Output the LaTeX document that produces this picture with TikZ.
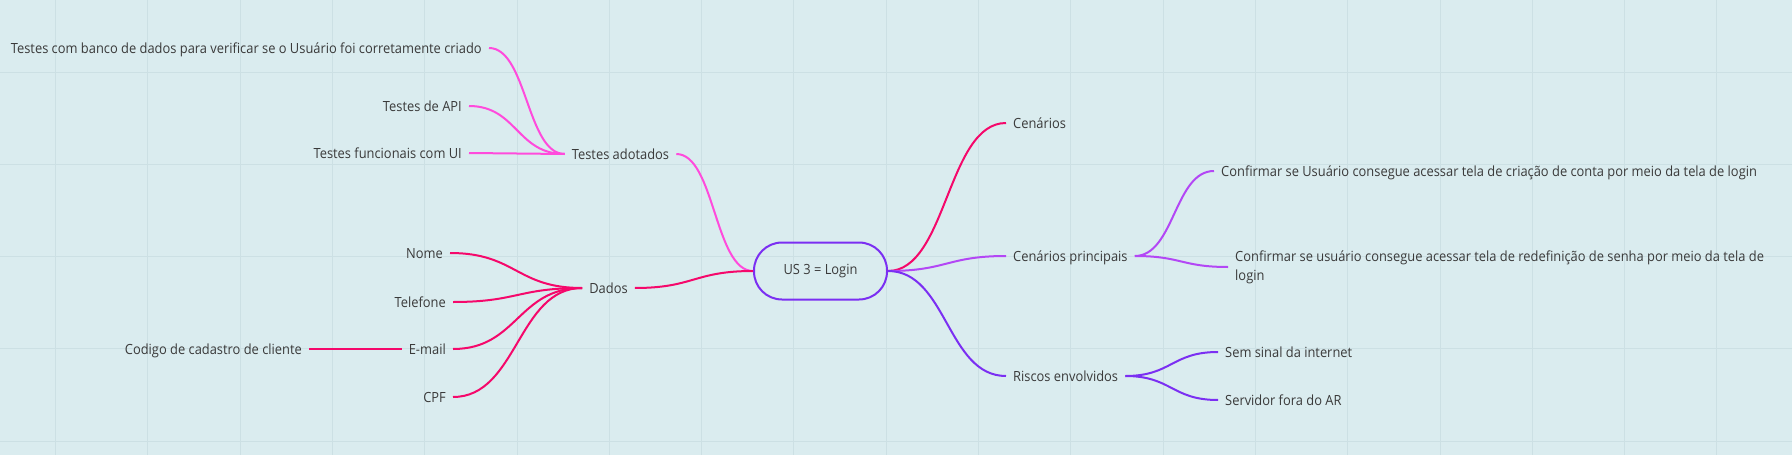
\documentclass[tikz,border=0pt]{standalone}
\usepackage{fontspec}
\setmainfont{Open Sans}[FakeStretch=0.92]
\usetikzlibrary{calc}
\definecolor{bg}{HTML}{DAECEF}
\definecolor{gridc}{HTML}{CCE0E4}
\definecolor{txt}{HTML}{3A3A3A}
\definecolor{cviolet}{HTML}{7B2FF2}
\definecolor{cpurple}{HTML}{B347F5}
\definecolor{ccrimson}{HTML}{F5086B}
\definecolor{cpink}{HTML}{FF4BDC}
\begin{document}
\begin{tikzpicture}[x=1pt,y=-1pt,
  base/.style={inner xsep=7pt, inner ysep=0pt, text=txt, font=\fontsize{14}{19}\selectfont},
  lbl/.style={base, text height=12pt, text depth=2pt},
  link/.style={line width=2pt, to path={let \p1=(\tikztostart), \p2=(\tikztotarget) in .. controls ({0.5*\x1+0.5*\x2},\y1) and ({0.5*\x1+0.5*\x2},\y2) .. (\tikztotarget)}},
  gridline/.style={gridc, line width=1pt}
]
\useasboundingbox (0,0) rectangle (1792,455);
\fill[bg] (0,0) rectangle (1792,455);
\foreach \i in {0,...,18} \draw[gridline] ({55.5+92.3*\i},0) -- ++(0,455);
\foreach \j in {0,...,4} \draw[gridline] (0,{72+92.3*\j}) -- ++(1792,0);

% left side
\node[lbl, anchor=east] (t1) at (489,48) {Testes com banco de dados para verificar se o Usuário foi corretamente criado};
\node[lbl, anchor=east] (t2) at (469,106) {Testes de API};
\node[lbl, anchor=east] (t3) at (469,153) {Testes funcionais com UI};
\node[lbl] (tad) at (620.5,154) {Testes adotados};
\node[lbl] (dados) at (608.5,288) {Dados};
\node[lbl, anchor=east] (nome) at (450,253) {Nome};
\node[lbl, anchor=east] (tel) at (453,302) {Telefone};
\node[lbl, anchor=east] (email) at (453,349) {E-mail};
\node[lbl, anchor=east] (cod) at (309,349) {Codigo de cadastro de cliente};
\node[lbl, anchor=east] (cpf) at (453,397) {CPF};

% root
\node[draw=cviolet, line width=2pt, rounded corners=28pt, minimum width=133pt, minimum height=57pt, text=txt, font=\fontsize{14}{18}\selectfont] (root) at (820.5,271) {US 3 = Login};

% right side
\node[lbl, anchor=west] (cen) at (1006,123) {Cenários};
\node[lbl, anchor=west] (cenp) at (1006,256) {Cenários principais};
\node[lbl, anchor=west] (conf1) at (1214,171) {Confirmar se Usuário consegue acessar tela de criação de conta por meio da tela de login};
\node[base, anchor=west, align=left] (conf2) at (1228,267) {Confirmar se usuário consegue acessar tela de redefinição de senha por meio da tela de\\login};
\node[lbl, anchor=west] (risc) at (1006,376) {Riscos envolvidos};
\node[lbl, anchor=west] (sem) at (1218,352) {Sem sinal da internet};
\node[lbl, anchor=west] (serv) at (1218,400) {Servidor fora do AR};

% connectors
\draw[link, cpink] (root.west) to (tad.east);
\draw[link, cpink] (tad.west) to (t1.east);
\draw[link, cpink] (tad.west) to (t2.east);
\draw[link, cpink] (tad.west) to (t3.east);
\draw[link, ccrimson] (root.west) to (dados.east);
\draw[link, ccrimson] (dados.west) to (nome.east);
\draw[link, ccrimson] (dados.west) to (tel.east);
\draw[link, ccrimson] (dados.west) to (email.east);
\draw[link, ccrimson] (dados.west) to (cpf.east);
\draw[link, ccrimson] (email.west) to (cod.east);
\draw[link, ccrimson] (root.east) to (cen.west);
\draw[link, cpurple] (root.east) to (cenp.west);
\draw[link, cpurple] (cenp.east) to (conf1.west);
\draw[link, cpurple] (cenp.east) to (conf2.west);
\draw[link, cviolet] (root.east) to (risc.west);
\draw[link, cviolet] (risc.east) to (sem.west);
\draw[link, cviolet] (risc.east) to (serv.west);
\end{tikzpicture}
\end{document}
